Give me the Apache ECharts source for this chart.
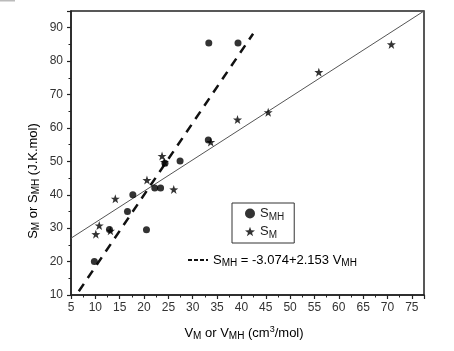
<!DOCTYPE html>
<html><head><meta charset="utf-8">
<script src="https://cdn.jsdelivr.net/npm/echarts@6/dist/echarts.min.js"></script>
<style>html,body{margin:0;padding:0;background:#fff}#c{width:454px;height:351px}</style>
</head><body><div id="c"></div>
<script>
// S_MH data (circles)
var smhX = [9.8, 12.9, 16.6, 17.7, 20.5, 22.2, 23.4, 24.3, 27.4, 33.2, 33.3, 39.3];
var smhY = [20.0, 29.6, 35.0, 40.0, 29.5, 42.0, 42.0, 49.4, 50.1, 56.4, 85.4, 85.4];
// S_M data (stars)
var smX = [10.1, 10.8, 13.1, 14.1, 20.6, 23.7, 24.2, 26.1, 33.7, 39.2, 45.5, 55.9, 70.8];
var smY = [28.2, 30.8, 29.2, 38.8, 44.4, 51.6, 49.8, 41.6, 55.8, 62.5, 64.7, 76.7, 85.0];
// fitted lines (end points)
var fitSmX = [5, 77.5];
var fitSmY = [27.0, 95.0];
var fitSmhX = [6.6, 42.4];
var fitSmhY = [11.1, 88.2];
// ticks
var xMin = 5, xMax = 77.5, xStep = 5;
var yMin = 10, yMax = 95, yStep = 10;

function zip(a, b) { return a.map(function (v, i) { return [v, b[i]]; }); }
var star = 'path://M12,0 L14.9,8.2 L23.4,8.3 L16.6,13.4 L19.1,21.6 L12,16.6 L4.9,21.6 L7.4,13.4 L0.6,8.3 L9.1,8.2 Z';
var FONT = 'Liberation Sans, Arial, sans-serif';
var rich = {
  n: {fontSize: 13, fontFamily: FONT, color: '#222'},
  s: {fontSize: 10, fontFamily: FONT, color: '#222', padding: [7, 0, 0, 0]},
  u: {fontSize: 9, fontFamily: FONT, color: '#222', padding: [0, 0, 7, 0]}
};

var chart = echarts.init(document.getElementById('c'), null, {renderer: 'canvas'});
chart.setOption({
  animation: false,
  backgroundColor: '#fff',
  grid: {left: 71, top: 11, width: 353, height: 284, show: true, borderColor: '#222', borderWidth: 1.5, backgroundColor: 'transparent'},
  xAxis: {
    type: 'value', min: xMin, max: xMax, interval: xStep,
    axisLine: {show: true, onZero: false, lineStyle: {color: '#222', width: 1.5}},
    axisTick: {show: true, inside: false, length: 4, lineStyle: {color: '#222', width: 1.2}},
    minorTick: {show: true, splitNumber: 2, length: 2.5, lineStyle: {color: '#222', width: 1}},
    splitLine: {show: false},
    axisLabel: {color: '#333', fontSize: 12, fontFamily: FONT, margin: 7,
      formatter: function (v) { return v % 5 === 0 ? String(v) : ''; }}
  },
  yAxis: {
    type: 'value', min: yMin, max: yMax, interval: yStep,
    axisLine: {show: true, onZero: false, lineStyle: {color: '#222', width: 1.5}},
    axisTick: {show: true, inside: false, length: 4, lineStyle: {color: '#222', width: 1.2}},
    minorTick: {show: true, splitNumber: 2, length: 2.5, lineStyle: {color: '#222', width: 1}},
    splitLine: {show: false},
    axisLabel: {color: '#333', fontSize: 12, fontFamily: FONT, margin: 8, showMaxLabel: false,
      formatter: function (v) { return v % 10 === 0 ? String(v) : ''; }}
  },
  legend: {
    left: 232, top: 203, orient: 'vertical',
    borderColor: '#333', borderWidth: 1, padding: [4, 10, 3, 13],
    itemWidth: 10, itemHeight: 10, itemGap: 3,
    data: [{name: 'SMH', icon: 'circle'}, {name: 'SM', icon: star}],
    formatter: function (n) { return n === 'SMH' ? '{n|S}{s|MH}' : '{n|S}{s|M}'; },
    textStyle: {rich: rich}
  },
  graphic: [
    {type: 'rect', shape: {x: 0, y: 0, width: 15, height: 1.5}, style: {fill: '#bbb'}},
    {type: 'line', shape: {x1: 188, y1: 260, x2: 208, y2: 260}, style: {stroke: '#111', lineWidth: 2, lineDash: [4, 2]}},
    {type: 'text', x: 213, y: 260, style: {text: '{n|S}{s|MH}{n| = -3.074+2.153 V}{s|MH}', rich: rich, verticalAlign: 'middle'}},
    {type: 'text', x: 244, y: 333, style: {text: '{n|V}{s|M}{n| or V}{s|MH}{n| (cm}{u|3}{n|/mol)}', rich: rich, align: 'center', verticalAlign: 'middle'}},
    {type: 'text', x: 33, y: 181, rotation: Math.PI / 2, style: {text: '{n|S}{s|M}{n| or S}{s|MH}{n| (J.K.mol)}', rich: rich, align: 'center', verticalAlign: 'middle'}}
  ],
  series: [
    {name: 'fitSM', type: 'line', data: zip(fitSmX, fitSmY), symbol: 'none', silent: true,
      lineStyle: {color: '#555', width: 1}, z: 1},
    {name: 'fitSMH', type: 'line', data: zip(fitSmhX, fitSmhY), symbol: 'none', silent: true,
      lineStyle: {color: '#111', width: 2.5, type: [9, 7]}, z: 1},
    {name: 'SMH', type: 'scatter', data: zip(smhX, smhY), symbol: 'circle', symbolSize: 7,
      itemStyle: {color: '#000'}, z: 3},
    {name: 'SM', type: 'scatter', data: zip(smX, smY), symbol: star, symbolSize: 9,
      itemStyle: {color: '#000'}, z: 3}
  ]
});
</script></body></html>
